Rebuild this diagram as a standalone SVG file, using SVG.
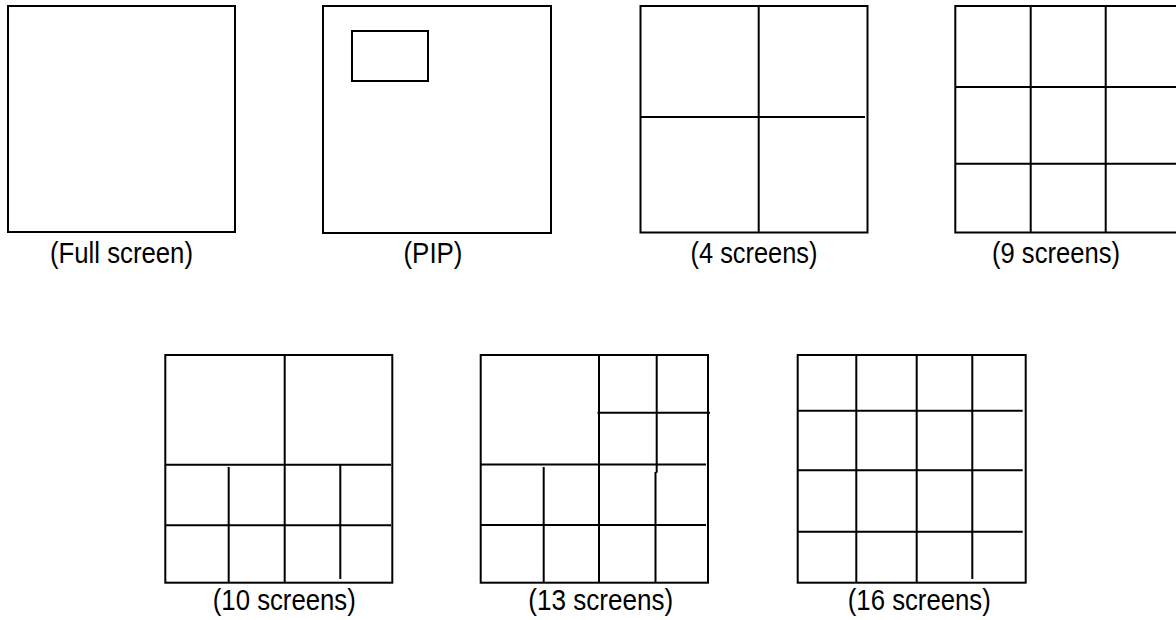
<svg xmlns="http://www.w3.org/2000/svg" width="1176" height="620" viewBox="0 0 1176 620">
<style>
.b{fill:none;stroke:#000;stroke-width:2}
.l{fill:none;stroke:#000;stroke-width:2}
.t{font-family:"Liberation Sans",Arial,sans-serif;font-size:29px;fill:#000;text-anchor:middle}
</style>
<rect width="1176" height="620" fill="#fff"/>
<g id="full">
<rect class="b" x="8" y="6" width="227" height="226"/>
<text class="t" x="121.5" y="263" textLength="143" lengthAdjust="spacingAndGlyphs">(Full screen)</text>
</g>
<g id="pip">
<rect class="b" x="323" y="6" width="228" height="227"/>
<rect class="b" x="352" y="31" width="76" height="50"/>
<text class="t" x="433" y="263" textLength="59" lengthAdjust="spacingAndGlyphs">(PIP)</text>
</g>
<g id="s4">
<rect class="b" x="640.5" y="6" width="227" height="226.5"/>
<path class="l" d="M758.7 6V232.5M640.5 117H865"/>
<text class="t" x="754" y="263" textLength="127" lengthAdjust="spacingAndGlyphs">(4 screens)</text>
</g>
<g id="s9">
<rect class="b" x="955.3" y="6" width="240" height="226.5"/>
<path class="l" d="M1030.7 6V232.5M1105.7 6V232.5M955.3 87H1176M955.3 163.7H1176"/>
<text class="t" x="1056" y="263" textLength="128" lengthAdjust="spacingAndGlyphs">(9 screens)</text>
</g>
<g id="s10">
<rect class="b" x="165.3" y="355" width="227" height="227.7"/>
<path class="l" d="M284.7 355V582.7M165.3 464.7H391M165.3 525.3H391M228.7 467V582.7M340.3 465V579"/>
<text class="t" x="284.3" y="610" textLength="143" lengthAdjust="spacingAndGlyphs">(10 screens)</text>
</g>
<g id="s13">
<rect class="b" x="480.7" y="355" width="227.3" height="227.7"/>
<path class="l" d="M599 355V582.7M656.7 355V472.7M655.5 472V582.7M597.5 412.7H710M480.7 464.5H706M480.7 525H706M543.7 467V582.7"/>
<text class="t" x="600.8" y="610" textLength="145" lengthAdjust="spacingAndGlyphs">(13 screens)</text>
</g>
<g id="s16">
<rect class="b" x="797.7" y="355" width="228" height="227.7"/>
<path class="l" d="M856.3 355V582.7M916.7 355V582.7M972.3 355V579M797.7 410.7H1022.7M797.7 470.3H1022.7M797.7 531.7H1022.7"/>
<text class="t" x="919.3" y="610" textLength="143" lengthAdjust="spacingAndGlyphs">(16 screens)</text>
</g>
<g id="connectors"></g>
</svg>
